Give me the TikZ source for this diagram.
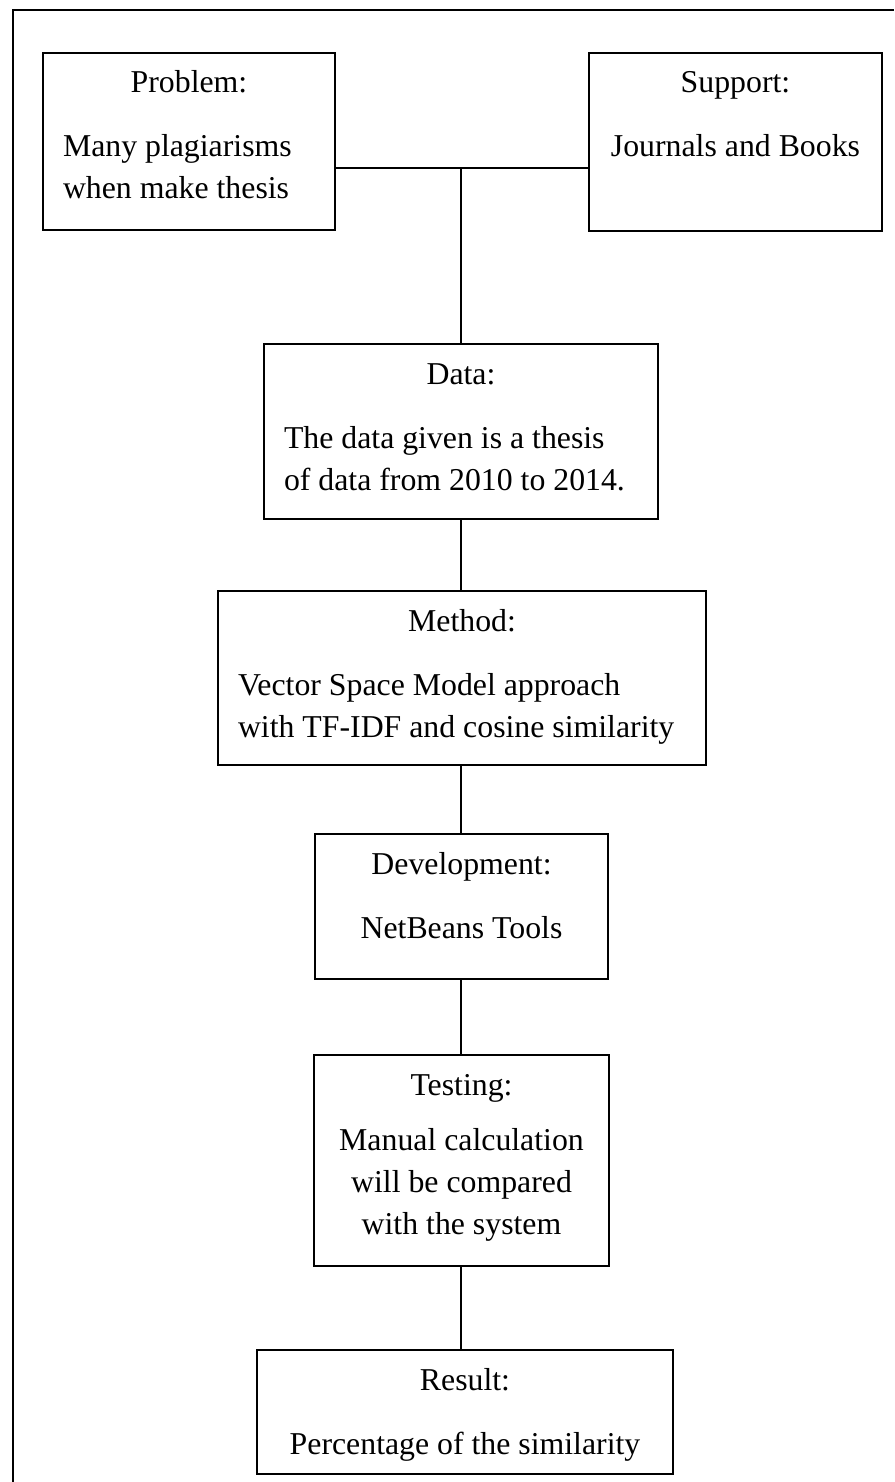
\documentclass[tikz,border=0pt]{standalone}
\usepackage{fontspec}
\setmainfont{Liberation Serif}
\newcommand{\stagetext}[5][22pt]{%
  \parbox[t][#3][t]{#2}{\centering\rule{0pt}{40pt}#4\par\vspace{#1}#5}}
\begin{document}
\begin{tikzpicture}
  [x=1pt,y=-1pt,
   every node/.style={font=\fontsize{31.8pt}{42pt}\selectfont},
   stage/.style={draw,line width=2pt,inner sep=0pt,anchor=north west},
   link/.style={line width=2pt}]
  \useasboundingbox (0,0) rectangle (894,1482);
  \draw[line width=2.4pt] (13,1482) -- (13,10) -- (894,10);

  \node[stage] (problem) at (42,52) {\stagetext{292pt}{177pt}{Problem:}{\raggedright\leftskip=20pt Many plagiarisms\\when make thesis}};
  \node[stage] (support) at (588,52) {\stagetext{293pt}{178pt}{Support:}{Journals and Books}};
  \node[stage] (data) at (263,343) {\stagetext{394pt}{175pt}{Data:}{\raggedright\leftskip=20pt The data given is a thesis\\of data from 2010 to 2014.}};
  \node[stage] (method) at (217,590) {\stagetext{488pt}{174pt}{Method:}{\raggedright\leftskip=20pt Vector Space Model approach\\with TF-IDF and cosine similarity}};
  \node[stage] (dev) at (314,833) {\stagetext{293pt}{145pt}{Development:}{NetBeans Tools}};
  \node[stage] (testing) at (313,1054) {\stagetext[13pt]{295pt}{211pt}{Testing:}{Manual calculation\\will be compared\\with the system}};
  \node[stage] (result) at (256,1349) {\stagetext{416pt}{124pt}{Result:}{Percentage of the similarity}};

  \coordinate (hub) at (461,168);
  \draw[link] (problem.east |- hub) -- (support.west |- hub);
  \draw[link] (hub) -- (hub |- data.north);

  \foreach \from/\to in {data/method, method/dev, dev/testing, testing/result}
  \draw[link] (hub |- \from.south) -- (hub |- \to.north);
\end{tikzpicture}
\end{document}
